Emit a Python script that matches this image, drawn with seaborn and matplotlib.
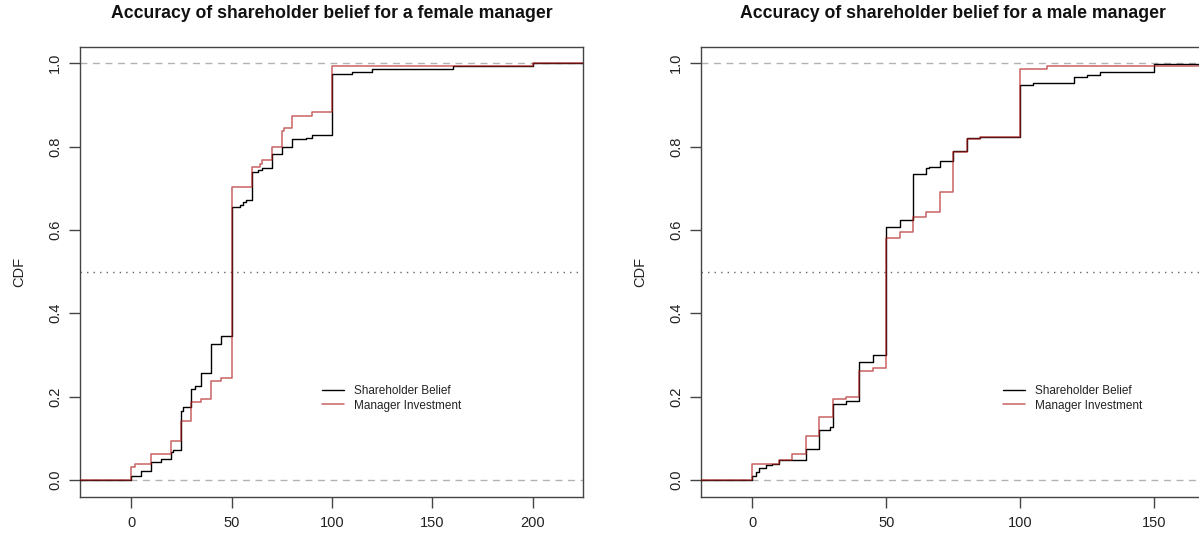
import numpy as np
import pandas as pd
import matplotlib
matplotlib.use("Agg")
import matplotlib.pyplot as plt
import seaborn as sns

# ---------------- data ----------------
series_names = ["Shareholder Belief", "Manager Investment"]
panel_titles = ["Accuracy of shareholder belief for a female manager",
                "Accuracy of shareholder belief for a male manager"]

female_belief_x = [-40, 0, 5, 10, 15, 20, 21, 25, 26, 30, 32, 35, 40, 45, 50, 54, 55.5, 57,
                   60, 63, 65, 70, 75, 80, 87, 90, 100, 110, 120, 160, 200, 260]
female_belief_cdf = [0, 0.010, 0.022, 0.042, 0.050, 0.068, 0.073, 0.166, 0.174, 0.218, 0.226,
                     0.256, 0.327, 0.346, 0.656, 0.661, 0.666, 0.671, 0.738, 0.743, 0.748,
                     0.782, 0.800, 0.818, 0.821, 0.829, 0.974, 0.979, 0.987, 0.993, 1.0, 1.0]

female_invest_x = [-40, 0, 2, 10, 20, 25, 30, 35, 40, 45, 50, 60, 64, 65, 70, 75, 76, 80,
                   90, 100, 200, 260]
female_invest_cdf = [0, 0.030, 0.039, 0.062, 0.094, 0.142, 0.186, 0.194, 0.237, 0.244, 0.702,
                     0.750, 0.758, 0.768, 0.800, 0.837, 0.844, 0.874, 0.882, 0.994, 1.0, 1.0]

male_belief_x = [-40, 0, 1.5, 2.5, 5, 7.5, 10, 20, 25, 29, 30, 35, 40, 45, 50, 55, 60, 65, 66,
                 70, 75, 80, 85, 100, 105, 120, 125, 130, 150, 200]
male_belief_cdf = [0, 0.010, 0.020, 0.028, 0.035, 0.038, 0.048, 0.074, 0.120, 0.126, 0.182,
                   0.190, 0.284, 0.300, 0.608, 0.624, 0.734, 0.748, 0.751, 0.766, 0.790, 0.820,
                   0.822, 0.948, 0.952, 0.968, 0.973, 0.979, 0.998, 0.998]

male_invest_x = [-40, 0, 10, 15, 20, 25, 30, 35, 40, 45, 50, 55, 60, 65, 70, 75, 80, 85, 100,
                 110, 200]
male_invest_cdf = [0, 0.038, 0.048, 0.062, 0.106, 0.150, 0.194, 0.200, 0.262, 0.268, 0.580,
                   0.594, 0.630, 0.643, 0.692, 0.786, 0.818, 0.822, 0.986, 0.994, 0.994]

female_xticks = [0, 50, 100, 150, 200]
male_xticks = [0, 50, 100, 150]
yticks = [0.0, 0.2, 0.4, 0.6, 0.8, 1.0]
ytick_labels = ["0.0", "0.2", "0.4", "0.6", "0.8", "1.0"]

# ---------------- style ----------------
sns.set_style("ticks")
plt.rcParams["font.family"] = ["Liberation Sans", "DejaVu Sans"]

W, H = 1199, 538
fig = plt.figure(figsize=(W / 100, H / 100), dpi=100)

def px_axes(x0, y0, x1, y1):
    return [x0 / W, 1 - y1 / H, (x1 - x0) / W, (y1 - y0) / H]

ax1 = fig.add_axes(px_axes(80, 47, 583, 497))
ax2 = fig.add_axes(px_axes(701, 47, 1204, 497))

panels = [
    (ax1, female_belief_x, female_belief_cdf, female_invest_x, female_invest_cdf,
     (-25.4, 224.9), female_xticks, panel_titles[0], 0.481),
    (ax2, male_belief_x, male_belief_cdf, male_invest_x, male_invest_cdf,
     (-19.16, 168.7), male_xticks, panel_titles[1], 0.600),
]

for ax, bx, by, ix, iy, xlim, xt, title, legx in panels:
    df = pd.concat([
        pd.DataFrame({"x": bx, "cdf": by, "series": series_names[0]}),
        pd.DataFrame({"x": ix, "cdf": iy, "series": series_names[1]}),
    ])
    ax.axhline(0, color="#b3b3b3", lw=1, ls=(0, (5, 4)), zorder=1)
    ax.axhline(1, color="#b3b3b3", lw=1, ls=(0, (5, 4)), zorder=1)
    ax.axhline(0.5, color="#666666", lw=1, ls=(0, (1, 3.7)), zorder=1)
    sns.lineplot(data=df[df.series == series_names[0]], x="x", y="cdf", color="black",
                 lw=1.0, drawstyle="steps-post", estimator=None, sort=False, ax=ax,
                 label=series_names[0], zorder=3)
    sns.lineplot(data=df[df.series == series_names[1]], x="x", y="cdf", color="#b22222",
                 alpha=0.7, lw=1.1, drawstyle="steps-post", estimator=None, sort=False, ax=ax,
                 label=series_names[1], zorder=4)
    ax.set_xlim(*xlim)
    ax.set_ylim(-0.0408, 1.039)
    ax.set_xticks(xt)
    ax.set_xticklabels([str(v) for v in xt])
    ax.set_yticks(yticks)
    ax.set_yticklabels(ytick_labels, rotation=90, va="center")
    ax.tick_params(axis="both", length=8, width=1, color="#444444", labelsize=10.5,
                   labelcolor="#222222")
    ax.tick_params(axis="x", pad=6)
    ax.tick_params(axis="y", pad=5)
    for s in ax.spines.values():
        s.set_visible(True)
        s.set_color("#444444")
        s.set_linewidth(1)
    ax.set_xlabel("")
    ax.set_ylabel("CDF", fontsize=10.5, color="#222222")
    ax.yaxis.set_label_coords(-0.107, 0.5)
    ax.set_title(title, fontsize=12.7, fontweight="bold", pad=21, color="#111111")
    leg = ax.legend(loc="upper left", bbox_to_anchor=(legx, 0.249), frameon=False,
                    fontsize=8.5, handlelength=1.85, handletextpad=0.85, borderpad=0,
                    borderaxespad=0, labelspacing=0.22)
    for t in leg.get_texts():
        t.set_color("#222222")

fig.savefig("out.png", dpi=100)
